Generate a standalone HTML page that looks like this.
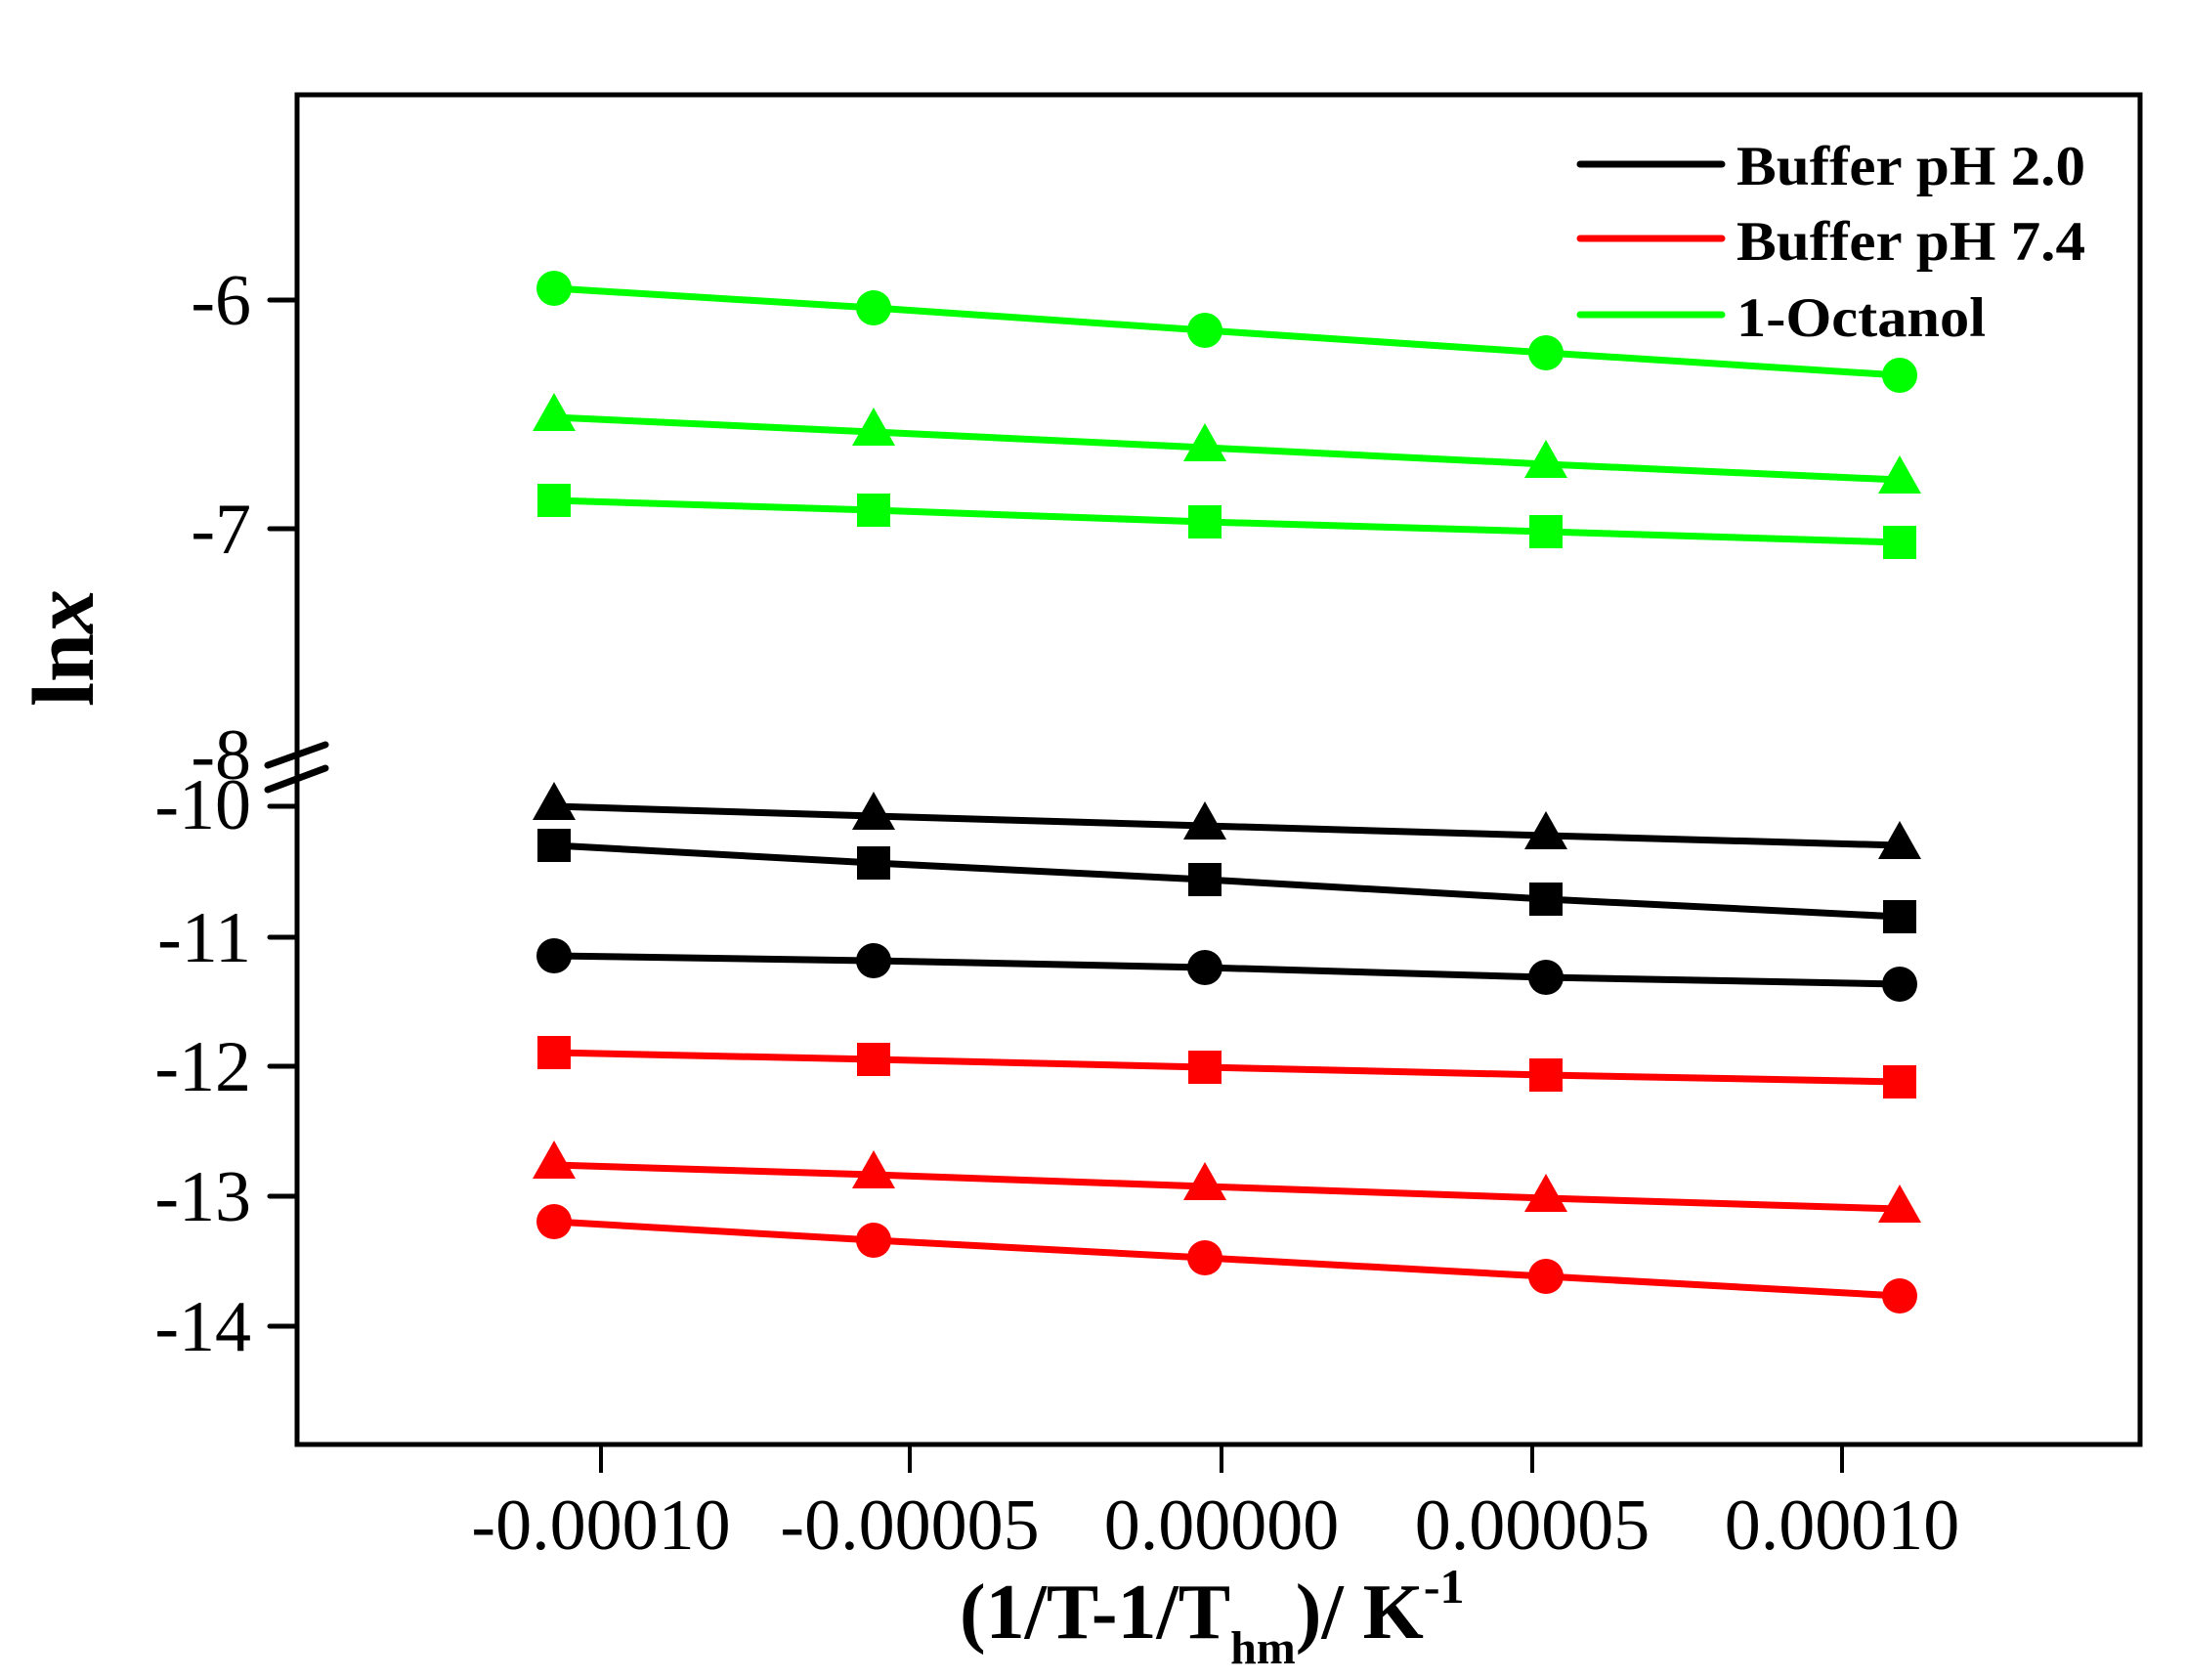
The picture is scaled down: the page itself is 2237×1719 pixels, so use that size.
<!DOCTYPE html>
<html><head><meta charset="utf-8"><style>html,body{margin:0;padding:0;background:#fff}svg{display:block}</style></head>
<body>
<svg width="2237" height="1719" viewBox="0 0 2237 1719" xmlns="http://www.w3.org/2000/svg" font-family="'Liberation Serif', serif">
<rect width="2237" height="1719" fill="#fff"/>
<rect x="304" y="97" width="1886" height="1381" fill="none" stroke="#000" stroke-width="5"/>
<g stroke="#000" stroke-width="5" stroke-linecap="round">
<line x1="276" y1="307" x2="304" y2="307"/>
<line x1="276" y1="541" x2="304" y2="541"/>
<line x1="276" y1="825" x2="304" y2="825"/>
<line x1="276" y1="959" x2="304" y2="959"/>
<line x1="276" y1="1091" x2="304" y2="1091"/>
<line x1="276" y1="1224" x2="304" y2="1224"/>
<line x1="276" y1="1357" x2="304" y2="1357"/>
<line x1="274" y1="783" x2="333" y2="762" stroke-width="7"/>
<line x1="274" y1="808" x2="333" y2="786" stroke-width="7"/>
</g>
<g stroke="#000" stroke-width="4">
<line x1="615" y1="1478" x2="615" y2="1507"/>
<line x1="931" y1="1478" x2="931" y2="1507"/>
<line x1="1250" y1="1478" x2="1250" y2="1507"/>
<line x1="1568" y1="1478" x2="1568" y2="1507"/>
<line x1="1885" y1="1478" x2="1885" y2="1507"/>
</g>
<g font-size="74" text-anchor="end" fill="#000">
<text x="257" y="332">-6</text>
<text x="257" y="566">-7</text>
<text x="257" y="797">-8</text>
<text x="257" y="848">-10</text>
<text x="257" y="984">-11</text>
<text x="257" y="1116">-12</text>
<text x="257" y="1249">-13</text>
<text x="257" y="1382">-14</text>
</g>
<g font-size="74" text-anchor="middle" fill="#000">
<text x="615" y="1585">-0.00010</text>
<text x="931" y="1585">-0.00005</text>
<text x="1250" y="1585">0.00000</text>
<text x="1568" y="1585">0.00005</text>
<text x="1885" y="1585">0.00010</text>
</g>
<text x="982" y="1676" font-size="80" font-weight="bold">(1/T-1/T<tspan font-size="48" dy="26">hm</tspan><tspan dy="-26">)/ K</tspan><tspan font-size="50" dy="-36">-1</tspan></text>
<text transform="translate(95,663) rotate(-90)" text-anchor="middle" font-size="90" font-weight="bold">ln<tspan font-style="italic">x</tspan></text>
<g stroke-width="7" stroke-linecap="round">
<line x1="1617" y1="168" x2="1762" y2="168" stroke="#000"/>
<line x1="1617" y1="244" x2="1762" y2="244" stroke="#f00"/>
<line x1="1617" y1="322" x2="1762" y2="322" stroke="#0f0"/>
</g>
<g font-size="57" font-weight="bold" fill="#000">
<text x="1777" y="189" textLength="357" lengthAdjust="spacingAndGlyphs">Buffer pH 2.0</text>
<text x="1777" y="266" textLength="357" lengthAdjust="spacingAndGlyphs">Buffer pH 7.4</text>
<text x="1777" y="344" textLength="255" lengthAdjust="spacingAndGlyphs">1-Octanol</text>
</g>
<defs>
<circle id="c" r="18"/>
<rect id="s" x="-17" y="-17" width="34" height="34"/>
<polygon id="t" points="0,-25 22,14 -22,14"/>
</defs>
<g stroke-width="7" fill="none">
<polyline stroke="#0f0" points="567,295 894,315 1233,338 1582,361 1944,384"/>
<polyline stroke="#0f0" points="567,427 894,442 1233,458 1582,475 1944,491"/>
<polyline stroke="#0f0" points="567,512 894,522 1233,534 1582,544 1944,555"/>
<polyline stroke="#000" points="567,825 894,835 1233,845 1582,855 1944,865"/>
<polyline stroke="#000" points="567,865 894,883 1233,900 1582,920 1944,938"/>
<polyline stroke="#000" points="567,978 894,983 1233,990 1582,1000 1944,1007"/>
<polyline stroke="#f00" points="567,1077 894,1084 1233,1092 1582,1100 1944,1107"/>
<polyline stroke="#f00" points="567,1192 894,1202 1233,1214 1582,1226 1944,1237"/>
<polyline stroke="#f00" points="567,1250 894,1269 1233,1287 1582,1306 1944,1326"/>
</g>
<g fill="#0f0">
<use href="#c" x="567" y="295"/><use href="#c" x="894" y="315"/><use href="#c" x="1233" y="338"/><use href="#c" x="1582" y="361"/><use href="#c" x="1944" y="384"/>
<use href="#t" x="567" y="427"/><use href="#t" x="894" y="442"/><use href="#t" x="1233" y="458"/><use href="#t" x="1582" y="475"/><use href="#t" x="1944" y="491"/>
<use href="#s" x="567" y="512"/><use href="#s" x="894" y="522"/><use href="#s" x="1233" y="534"/><use href="#s" x="1582" y="544"/><use href="#s" x="1944" y="555"/>
</g>
<g fill="#000">
<use href="#t" x="567" y="825"/><use href="#t" x="894" y="835"/><use href="#t" x="1233" y="845"/><use href="#t" x="1582" y="855"/><use href="#t" x="1944" y="865"/>
<use href="#s" x="567" y="865"/><use href="#s" x="894" y="883"/><use href="#s" x="1233" y="900"/><use href="#s" x="1582" y="920"/><use href="#s" x="1944" y="938"/>
<use href="#c" x="567" y="978"/><use href="#c" x="894" y="983"/><use href="#c" x="1233" y="990"/><use href="#c" x="1582" y="1000"/><use href="#c" x="1944" y="1007"/>
</g>
<g fill="#f00">
<use href="#s" x="567" y="1077"/><use href="#s" x="894" y="1084"/><use href="#s" x="1233" y="1092"/><use href="#s" x="1582" y="1100"/><use href="#s" x="1944" y="1107"/>
<use href="#t" x="567" y="1192"/><use href="#t" x="894" y="1202"/><use href="#t" x="1233" y="1214"/><use href="#t" x="1582" y="1226"/><use href="#t" x="1944" y="1237"/>
<use href="#c" x="567" y="1250"/><use href="#c" x="894" y="1269"/><use href="#c" x="1233" y="1287"/><use href="#c" x="1582" y="1306"/><use href="#c" x="1944" y="1326"/>
</g>
</svg>
</body></html>
